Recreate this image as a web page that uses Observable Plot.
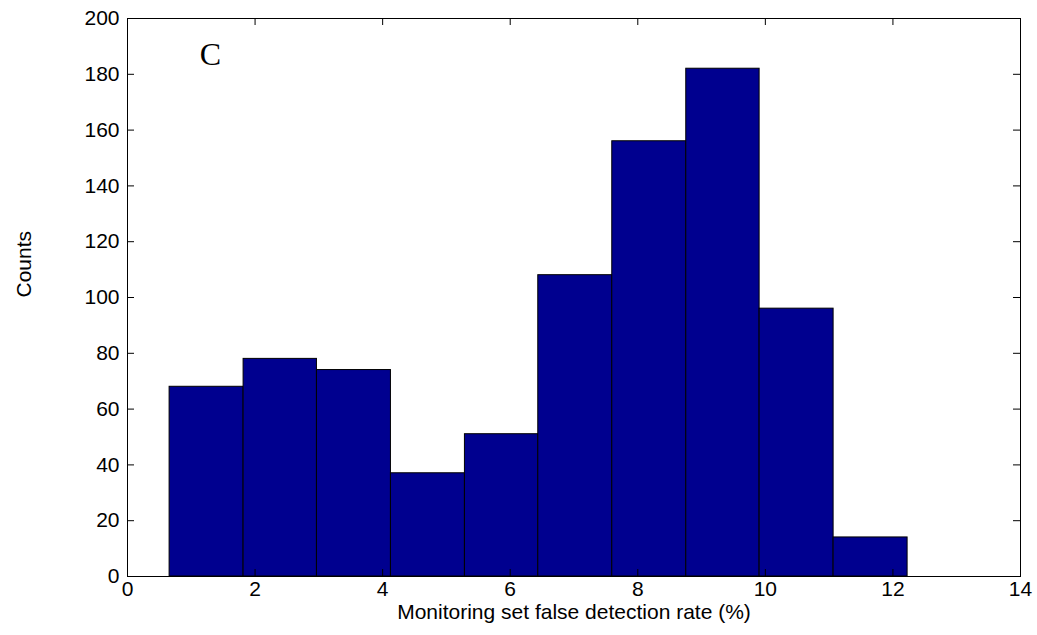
<!DOCTYPE html>
<html>
<head>
<meta charset="utf-8">
<script src="https://cdn.jsdelivr.net/npm/d3@7"></script>
<script src="https://cdn.jsdelivr.net/npm/@observablehq/plot@0.6"></script>
<style>
  html, body { margin: 0; padding: 0; background: #fff; }
  #chart svg { display: block; }
</style>
</head>
<body>
<div id="chart"></div>
<script>
// Histogram bin edges (false detection rate, %)
const binEdges = [0.66, 1.82, 2.97, 4.13, 5.29, 6.44, 7.60, 8.76, 9.91, 11.07, 12.23];
// Counts per bin
const counts = [68, 78, 74, 37, 51, 108, 156, 182, 96, 14];
// Tick values
const xTicks = [0, 2, 4, 6, 8, 10, 12, 14];
const yTicks = [0, 20, 40, 60, 80, 100, 120, 140, 160, 180, 200];
const xLabel = "Monitoring set false detection rate (%)";
const yLabel = "Counts";
const panelLabel = "C";

const bins = counts.map((c, i) => ({x1: binEdges[i], x2: binEdges[i + 1], count: c}));

const W = 1037, H = 635;
const mL = 127, mR = 17, mT = 18, mB = 59;
const frameH = H - mT - mB;
const frameW = W - mL - mR;
const tick = 7;
const font = "Liberation Sans, Arial, sans-serif";
const fs = 21;

const chart = Plot.plot({
  width: W,
  height: H,
  marginLeft: mL,
  marginRight: mR,
  marginTop: mT,
  marginBottom: mB,
  style: {fontFamily: font, fontSize: fs + "px", color: "#000", background: "#fff"},
  x: {domain: [0, 14], ticks: xTicks},
  y: {domain: [0, 200], ticks: yTicks},
  marks: [
    Plot.rectY(bins, {x1: "x1", x2: "x2", y: "count", fill: "#00008F", stroke: "#000", strokeWidth: 1, inset: 0}),
    Plot.frame({stroke: "#000", strokeWidth: 1}),
    // inward ticks
    Plot.tickX(xTicks, {x: d => d, insetTop: frameH - tick, stroke: "#000"}),
    Plot.tickX(xTicks, {x: d => d, insetBottom: frameH - tick, stroke: "#000"}),
    Plot.tickY(yTicks, {y: d => d, insetRight: frameW - tick, stroke: "#000"}),
    Plot.tickY(yTicks, {y: d => d, insetLeft: frameW - tick, stroke: "#000"}),
    Plot.axisX(xTicks, {tickSize: 0, tickPadding: 5, fontSize: fs, label: null}),
    Plot.axisY(yTicks, {tickSize: 0, tickPadding: 8, fontSize: fs, label: null}),
    Plot.text([xLabel], {frameAnchor: "bottom", dy: 42, fontSize: fs, text: d => d}),
    Plot.text([yLabel], {frameAnchor: "left", dx: -103, rotate: -90, fontSize: fs, text: d => d}),
    Plot.text([panelLabel], {x: [1.3], y: [187], text: d => d, fontFamily: "Liberation Serif, Times New Roman, serif", fontSize: 32})
  ]
});
document.getElementById("chart").appendChild(chart);
</script>
</body>
</html>
